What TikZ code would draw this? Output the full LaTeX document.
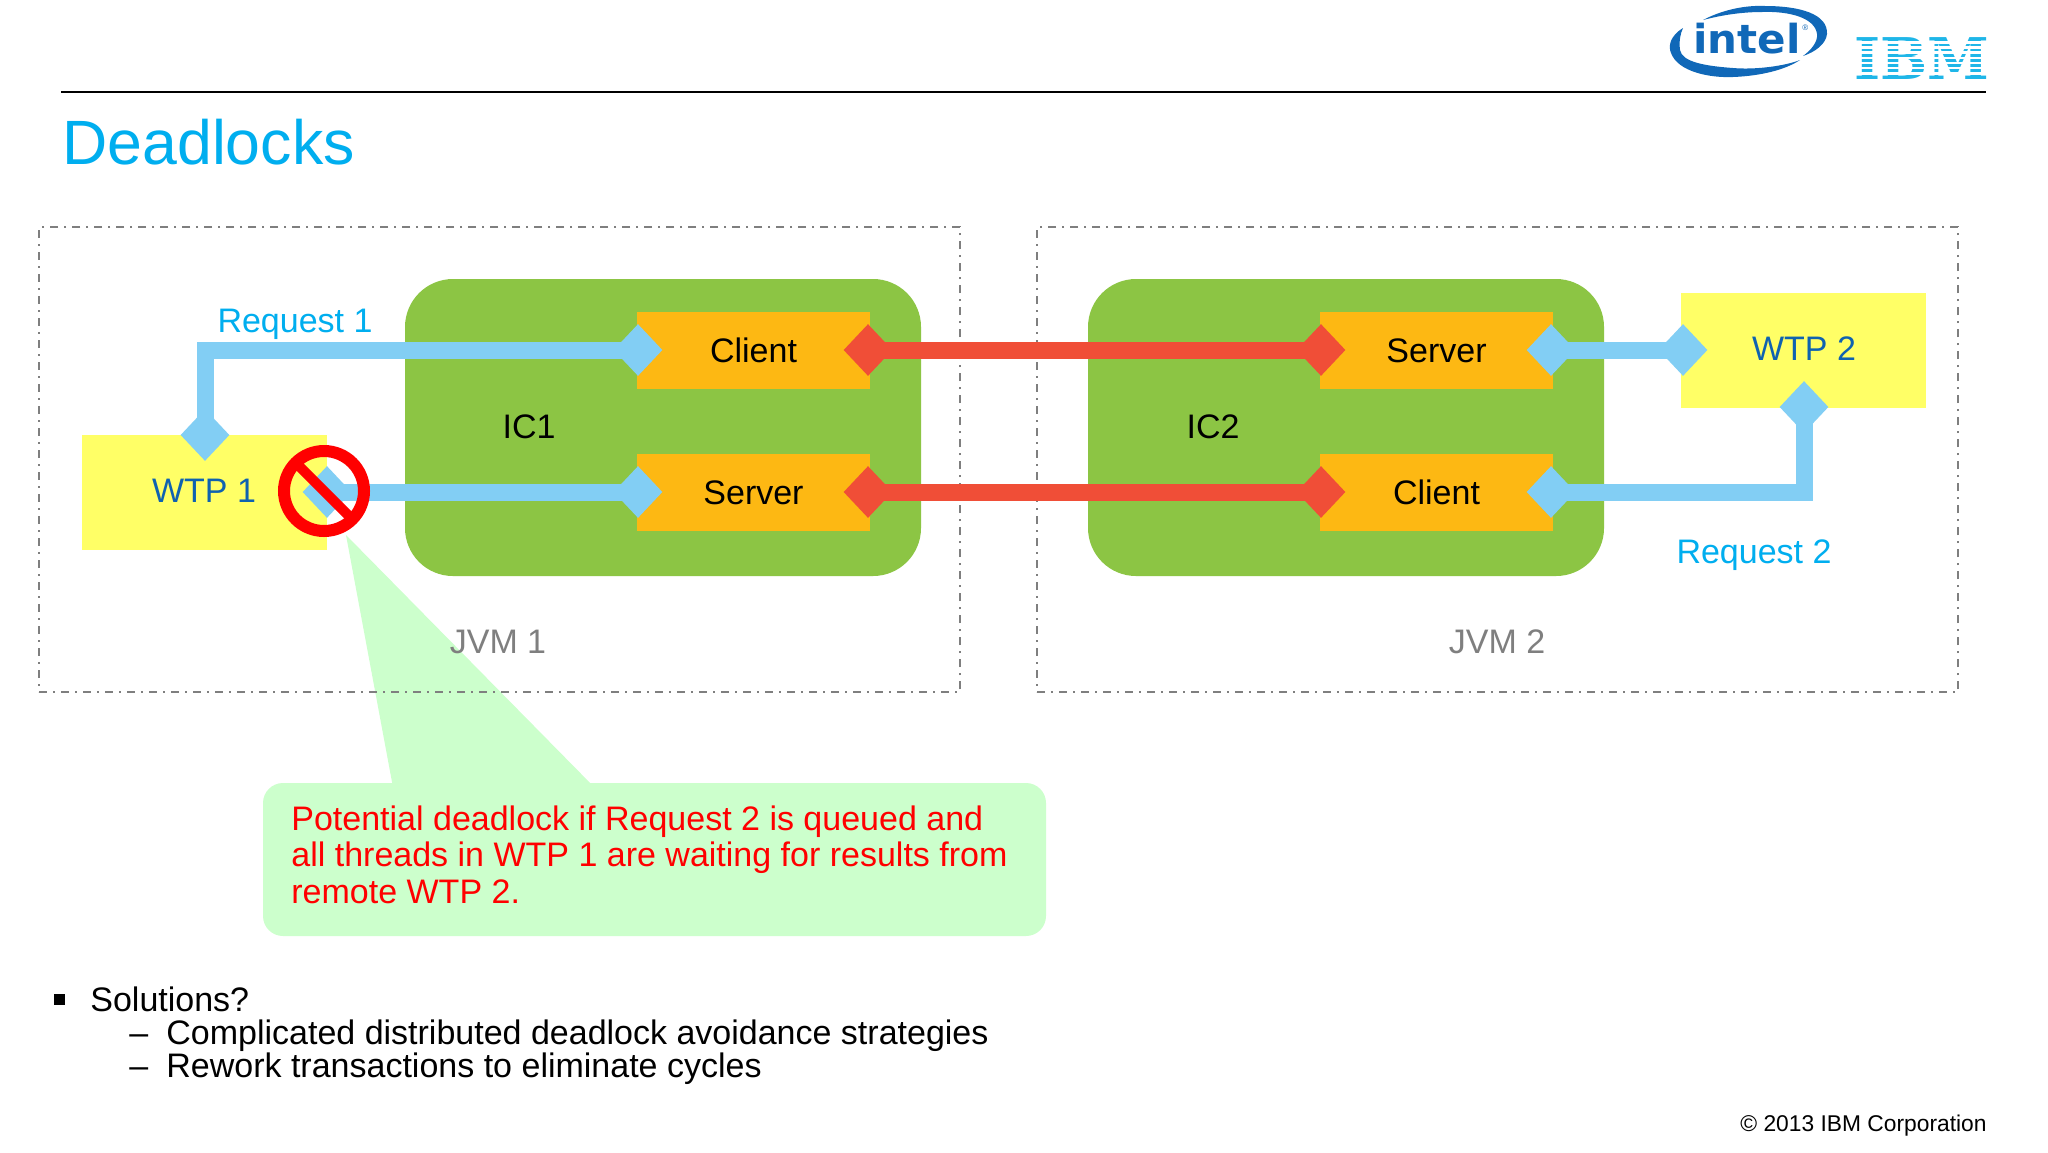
\documentclass[tikz,border=0pt]{standalone}
\usepackage{fontspec}
\setmainfont{Liberation Sans}
\newfontfamily\intelfont{DejaVu Sans}
\newfontfamily\ibmfont{DejaVu Serif}
\usetikzlibrary{shapes.geometric}
\definecolor{jvmgray}{HTML}{7F7F7F}
\definecolor{icgreen}{HTML}{8CC544}
\definecolor{wtpyellow}{HTML}{FFFF66}
\definecolor{partorange}{HTML}{FDB813}
\definecolor{pipeblue}{HTML}{82CEF4}
\definecolor{pipered}{HTML}{F04E37}
\definecolor{noticegreen}{HTML}{CCFFCC}
\definecolor{titleblue}{HTML}{00AEEF}
\definecolor{wtpblue}{HTML}{0F62B0}
\definecolor{intelblue}{HTML}{1068B8}
\definecolor{ibmblue}{HTML}{1FB6E8}
\newcommand{\fs}[1]{\fontsize{#1}{#1}\selectfont}
\tikzset{
  jvmbox/.style={draw=jvmgray,line width=.7pt,dash pattern=on 4pt off 3pt on .8pt off 3.2pt,
    minimum width=460.5,minimum height=232.5,inner sep=0pt},
  icbox/.style={fill=icgreen,rounded corners=24,minimum width=258,minimum height=148.5,inner sep=0pt},
  part/.style={fill=partorange,minimum width=116.5,minimum height=38.5,inner sep=0pt,font=\fs{17}},
  wtp/.style={fill=wtpyellow,minimum width=122.5,minimum height=57.5,inner sep=0pt},
  bluedia/.style={diamond,fill=pipeblue,minimum width=24.5,minimum height=26,inner sep=0pt},
  reddia/.style={diamond,fill=pipered,minimum width=24.5,minimum height=26,inner sep=0pt},
  bluepipe/.style={draw=pipeblue,line width=8.5pt},
  redpipe/.style={draw=pipered,line width=8.5pt},
  label/.style={font=\fs{17},inner sep=0pt},
  rowtext/.style={font=\fs{17},anchor=base west,inner sep=0pt},
  notice/.style={fill=noticegreen,rounded corners=10,minimum width=391.5,minimum height=76.5,inner sep=0pt}
}
\begin{document}
\begin{tikzpicture}[x=.5pt,y=-.5pt]
\useasboundingbox (0,0) rectangle (2048,1152);
\fill[white] (0,0) rectangle (2048,1152);

% header
\coordinate (headl) at (61,92);
\coordinate (headr) at (1986,92);
\draw[line width=1pt] (headl) -- (headr);
\node[font=\fs{31.3},text=titleblue,anchor=base west,inner sep=0pt] (title) at (62,164) {Deadlocks};

% logos
\fill[intelblue] (1683,28) .. controls (1670,36) and (1668,46) .. (1671,53)
  .. controls (1678,72) and (1710,78) .. (1733,77) .. controls (1760,76) and (1785,70) .. (1800,60)
  .. controls (1785,66) and (1755,70) .. (1733,68) .. controls (1705,66) and (1682,62) .. (1680,50)
  .. controls (1679,42) and (1680,34) .. (1683,28) -- cycle;
\fill[intelblue] (1703,20) .. controls (1722,10) and (1745,5) .. (1765,6)
  .. controls (1800,6) and (1828,14) .. (1827,34) .. controls (1826,44) and (1815,52) .. (1803,56)
  .. controls (1811,50) and (1818,42) .. (1817,34) .. controls (1815,18) and (1790,11) .. (1762,12)
  .. controls (1742,12) and (1722,15) .. (1703,20) -- cycle;
\node[font=\intelfont\bfseries\fs{20},text=intelblue,anchor=base west,inner sep=0pt,xscale=1.05] (intel) at (1693,53) {intel};
\node[font=\fs{4},text=intelblue,anchor=base west,inner sep=0pt] (intelreg) at (1802,30) {®};
\node[font=\ibmfont\bfseries\fs{28.75},text=ibmblue,anchor=base west,inner sep=0pt,xscale=.97] (ibm) at (1854,79) {IBM};
\foreach \y in {42.5,47.5,52.5,58,63,68,73.5}
  \draw[white,line width=1.1pt] (1850,\y) -- (1992,\y);

% callout
\coordinate (tip) at (346,535);
\coordinate (basel) at (393.5,790);
\coordinate (baser) at (597,790);
\fill[noticegreen] (tip) -- (basel) -- (baser) -- cycle;
\node[notice] (note) at (654.5,859.5) {};
\node[font=\fontsize{17}{18.3}\selectfont,text=red,align=left,anchor=north west,inner sep=0pt] (notetext) at (291,805)
  {Potential deadlock if Request 2 is queued and\\ all threads in WTP 1 are waiting for results from\\ remote WTP 2.};

% containers
\node[jvmbox] (jvma) at (499.5,459.5) {};
\node[jvmbox] (jvmb) at (1497.5,459.5) {};

\node[icbox] (ica) at (663,427.5) {};
\node[icbox] (icb) at (1346,427.5) {};

\node[wtp] (wtpa) at (204.5,492.5) {};
\node[wtp] (wtpb) at (1803.5,350) {};

\node[part] (clienta) at (753.5,350.5) {Client};
\node[part] (servera) at (753.5,492.5) {Server};
\node[part] (serverb) at (1436.5,350.5) {Server};
\node[part] (clientb) at (1436.5,492.5) {Client};

% connection ends
\node[bluedia] (wtpatop) at (205,435) {};
\node[bluedia] (wtpaside) at (327,492) {};
\node[bluedia] (clientin) at (638,350) {};
\node[bluedia] (serverin) at (638,492) {};
\node[reddia] (clientout) at (868,350) {};
\node[reddia] (serverout) at (868,492) {};
\node[reddia] (serverbin) at (1321,350) {};
\node[reddia] (clientbin) at (1321,492) {};
\node[bluedia] (serverbout) at (1551,350) {};
\node[bluedia] (clientbout) at (1551,492) {};
\node[bluedia] (wtpbside) at (1683,350) {};
\node[bluedia] (wtpbbot) at (1804,407) {};

% connectors
\draw[bluepipe] (wtpatop.center) |- (clientin.center);
\draw[bluepipe] (wtpaside.center) -- (serverin.center);
\draw[redpipe] (clientout.center) -- (serverbin.center);
\draw[redpipe] (serverout.center) -- (clientbin.center);
\draw[bluepipe] (serverbout.center) -- (wtpbside.center);
\draw[bluepipe] (clientbout.center) -| (wtpbbot.center);

% blocked sign
\node[circle,draw=red,line width=6pt,minimum size=40,inner sep=0pt,outer sep=0pt] (block) at (324,491) {};
\draw[red,line width=5pt] (block.135) -- (block.-45);

% labels
\node[label,text=wtpblue] (wtpaname) at (204,491) {WTP 1};
\node[label,text=wtpblue] (wtpbname) at (1804,349) {WTP 2};
\node[label] (icaname) at (529,427) {IC1};
\node[label] (icbname) at (1213,427) {IC2};
\node[label,text=titleblue] (reqa) at (295,324) {Request 1};
\node[label,text=titleblue] (reqb) at (1754,555) {Request 2};
\node[label,text=jvmgray] (jvmaname) at (498,642) {JVM 1};
\node[label,text=jvmgray] (jvmbname) at (1497,642) {JVM 2};

% solutions
\node[fill=black,minimum size=5.5,inner sep=0pt] (bullet) at (59,999) {};
\node[rowtext] (sol) at (90,1011) {Solutions?};
\node[rowtext] (dasha) at (129,1044) {--};
\node[rowtext] (rowa) at (166,1044) {Complicated distributed deadlock avoidance strategies};
\node[rowtext] (dashb) at (129,1077) {--};
\node[rowtext] (rowb) at (166,1077) {Rework transactions to eliminate cycles};

\node[font=\fs{11.4},anchor=base east,inner sep=0pt] (copy) at (1987,1131) {© 2013 IBM Corporation};
\end{tikzpicture}
\end{document}
